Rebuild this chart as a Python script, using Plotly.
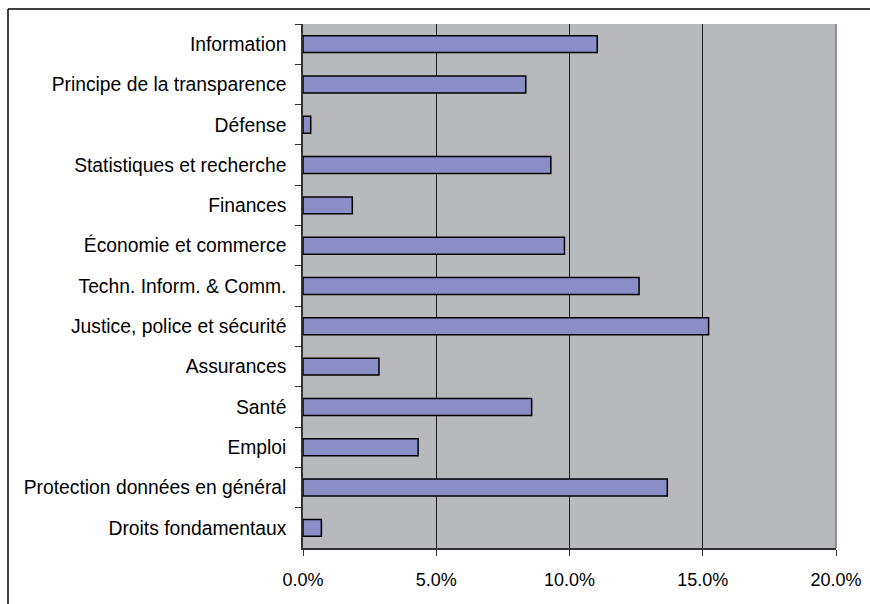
import plotly.graph_objects as go

categories = [
    "Information",
    "Principe de la transparence",
    "Défense",
    "Statistiques et recherche",
    "Finances",
    "Économie et commerce",
    "Techn. Inform. & Comm.",
    "Justice, police et sécurité",
    "Assurances",
    "Santé",
    "Emploi",
    "Protection données en général",
    "Droits fondamentaux",
]
values = [11.04, 8.36, 0.29, 9.30, 1.85, 9.81, 12.61, 15.22, 2.85, 8.58, 4.32, 13.67, 0.69]
x_ticks = [0, 5, 10, 15, 20]
x_tick_labels = ["0.0%", "5.0%", "10.0%", "15.0%", "20.0%"]

W, H = 870, 604
L, R, T, B = 303, 836, 24, 548

fig = go.Figure(
    go.Bar(
        x=values,
        y=categories,
        orientation="h",
        width=0.42,
        marker=dict(color="#8A8DC6", line=dict(color="#000000", width=1.5)),
        hoverinfo="x+y",
    )
)

def px(xp):
    return (xp - L) / (R - L)

def py(yp):
    return (B - yp) / (B - T)

fig.update_layout(
    width=W,
    height=H,
    margin=dict(l=L, r=W - R, t=T, b=H - B, pad=0, autoexpand=False),
    paper_bgcolor="#FFFFFF",
    plot_bgcolor="#B8B9BD",
    font=dict(family="Liberation Sans, Arial, sans-serif", size=18, color="#000000"),
    showlegend=False,
    shapes=[
        dict(type="line", xref="paper", yref="paper", x0=px(8), x1=px(900), y0=py(9), y1=py(9),
             line=dict(color="#000000", width=1.5)),
        dict(type="line", xref="paper", yref="paper", x0=px(8), x1=px(8), y0=py(9), y1=py(700),
             line=dict(color="#000000", width=1.5)),
        dict(type="line", xref="paper", yref="paper", x0=1, x1=1, y0=0, y1=1,
             line=dict(color="#77787C", width=1.5), layer="above"),
    ],
)

fig.update_xaxes(
    range=[0, 20],
    tickvals=x_ticks,
    ticktext=x_tick_labels,
    tickfont=dict(size=18),
    automargin=False,
    showgrid=True,
    gridcolor="#1A1A1A",
    gridwidth=1.2,
    zeroline=False,
    showline=True,
    linecolor="#333333",
    linewidth=1.5,
    ticks="outside",
    ticklen=6,
    tickcolor="#333333",
    tickwidth=1.2,
    ticklabelstandoff=9,
    fixedrange=True,
)

fig.update_yaxes(
    categoryorder="array",
    categoryarray=categories,
    autorange="reversed",
    tickfont=dict(size=19.3),
    automargin=False,
    showgrid=False,
    zeroline=False,
    showline=True,
    linecolor="#333333",
    linewidth=1.5,
    ticks="outside",
    tickson="boundaries",
    ticklen=6,
    tickcolor="#333333",
    tickwidth=1.2,
    ticklabelstandoff=11,
    fixedrange=True,
)

fig.write_html("out.html")
